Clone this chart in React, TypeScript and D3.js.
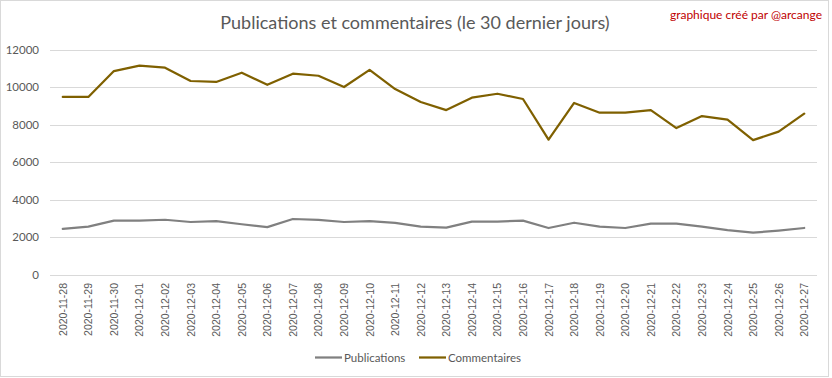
import React from "react";
import * as d3 from "d3";

const dates = [
  "2020-11-28","2020-11-29","2020-11-30","2020-12-01","2020-12-02","2020-12-03","2020-12-04","2020-12-05","2020-12-06","2020-12-07",
  "2020-12-08","2020-12-09","2020-12-10","2020-12-11","2020-12-12","2020-12-13","2020-12-14","2020-12-15","2020-12-16","2020-12-17",
  "2020-12-18","2020-12-19","2020-12-20","2020-12-21","2020-12-22","2020-12-23","2020-12-24","2020-12-25","2020-12-26","2020-12-27",
];
const publications = [
  2430, 2550, 2870, 2870, 2920, 2800, 2850, 2680, 2530, 2960,
  2910, 2800, 2850, 2750, 2550, 2500, 2820, 2820, 2870, 2480,
  2760, 2550, 2480, 2710, 2710, 2550, 2370, 2230, 2340, 2480,
];
const commentaires = [
  9470, 9470, 10850, 11140, 11030, 10320, 10270, 10760, 10120, 10710,
  10600, 10000, 10910, 9890, 9200, 8770, 9430, 9640, 9360, 7190,
  9150, 8630, 8630, 8770, 7810, 8450, 8260, 7170, 7620, 8580,
];
const yTicks = [0, 2000, 4000, 6000, 8000, 10000, 12000];
const seriesNames = ["Publications", "Commentaires"];
const seriesColors = ["#808080", "#7f6000"];

const W = 832, H = 378;

export default function App() {
  const x = d3.scalePoint<string>().domain(dates).range([50, 817]).padding(0.5);
  const y = d3.scaleLinear().domain([0, 12000]).range([274.5, 49.5]);
  const line = d3
    .line<number>()
    .x((_, i) => x(dates[i]) as number)
    .y((d) => y(d));
  const series = [publications, commentaires];
  const txt = "#595959";
  return (
    <svg width={W} height={H} style={{ position: "absolute", left: 0, top: 0 }}>
      <rect x={0} y={0} width={W} height={H} fill="#fff" />
      <rect x={0.5} y={0.5} width={828} height={376} fill="none" stroke="#d9d9d9" />
      <text x={415} y={29} textAnchor="middle" fontFamily="Lato" fontSize={18} fill={txt}>
        Publications et commentaires (le 30 dernier jours)
      </text>
      <text x={822} y={19} textAnchor="end" fontFamily="Lato" fontSize={12} fill="#c00000">
        graphique créé par @arcange
      </text>
      {yTicks.map((t) => (
        <g key={t}>
          <line x1={50} x2={817} y1={Math.round(y(t)) + 0.5} y2={Math.round(y(t)) + 0.5} stroke="#d9d9d9" />
          <text x={39} y={y(t) + 4} textAnchor="end" fontFamily="Lato" fontSize={11.5} fill={txt}>
            {t}
          </text>
        </g>
      ))}
      {dates.map((d) => (
        <text
          key={d}
          transform={`translate(${(x(d) as number) + 4},283) rotate(-90)`}
          textAnchor="end"
          fontFamily="Liberation Sans"
          fontSize={10.5}
          fill={txt}
        >
          {d}
        </text>
      ))}
      {series.map((s, i) => (
        <path key={i} d={line(s) || ""} fill="none" stroke={seriesColors[i]} strokeWidth={2.25} strokeLinejoin="round" strokeLinecap="round" />
      ))}
      {seriesNames.map((n, i) => {
        const lx = i === 0 ? 315 : 419;
        return (
          <g key={n}>
            <line x1={lx} x2={lx + 27} y1={357.5} y2={357.5} stroke={seriesColors[i]} strokeWidth={2.25} />
            <text x={lx + 29} y={361.5} fontFamily="Lato" fontSize={11.5} fill={txt}>
              {n}
            </text>
          </g>
        );
      })}
    </svg>
  );
}
